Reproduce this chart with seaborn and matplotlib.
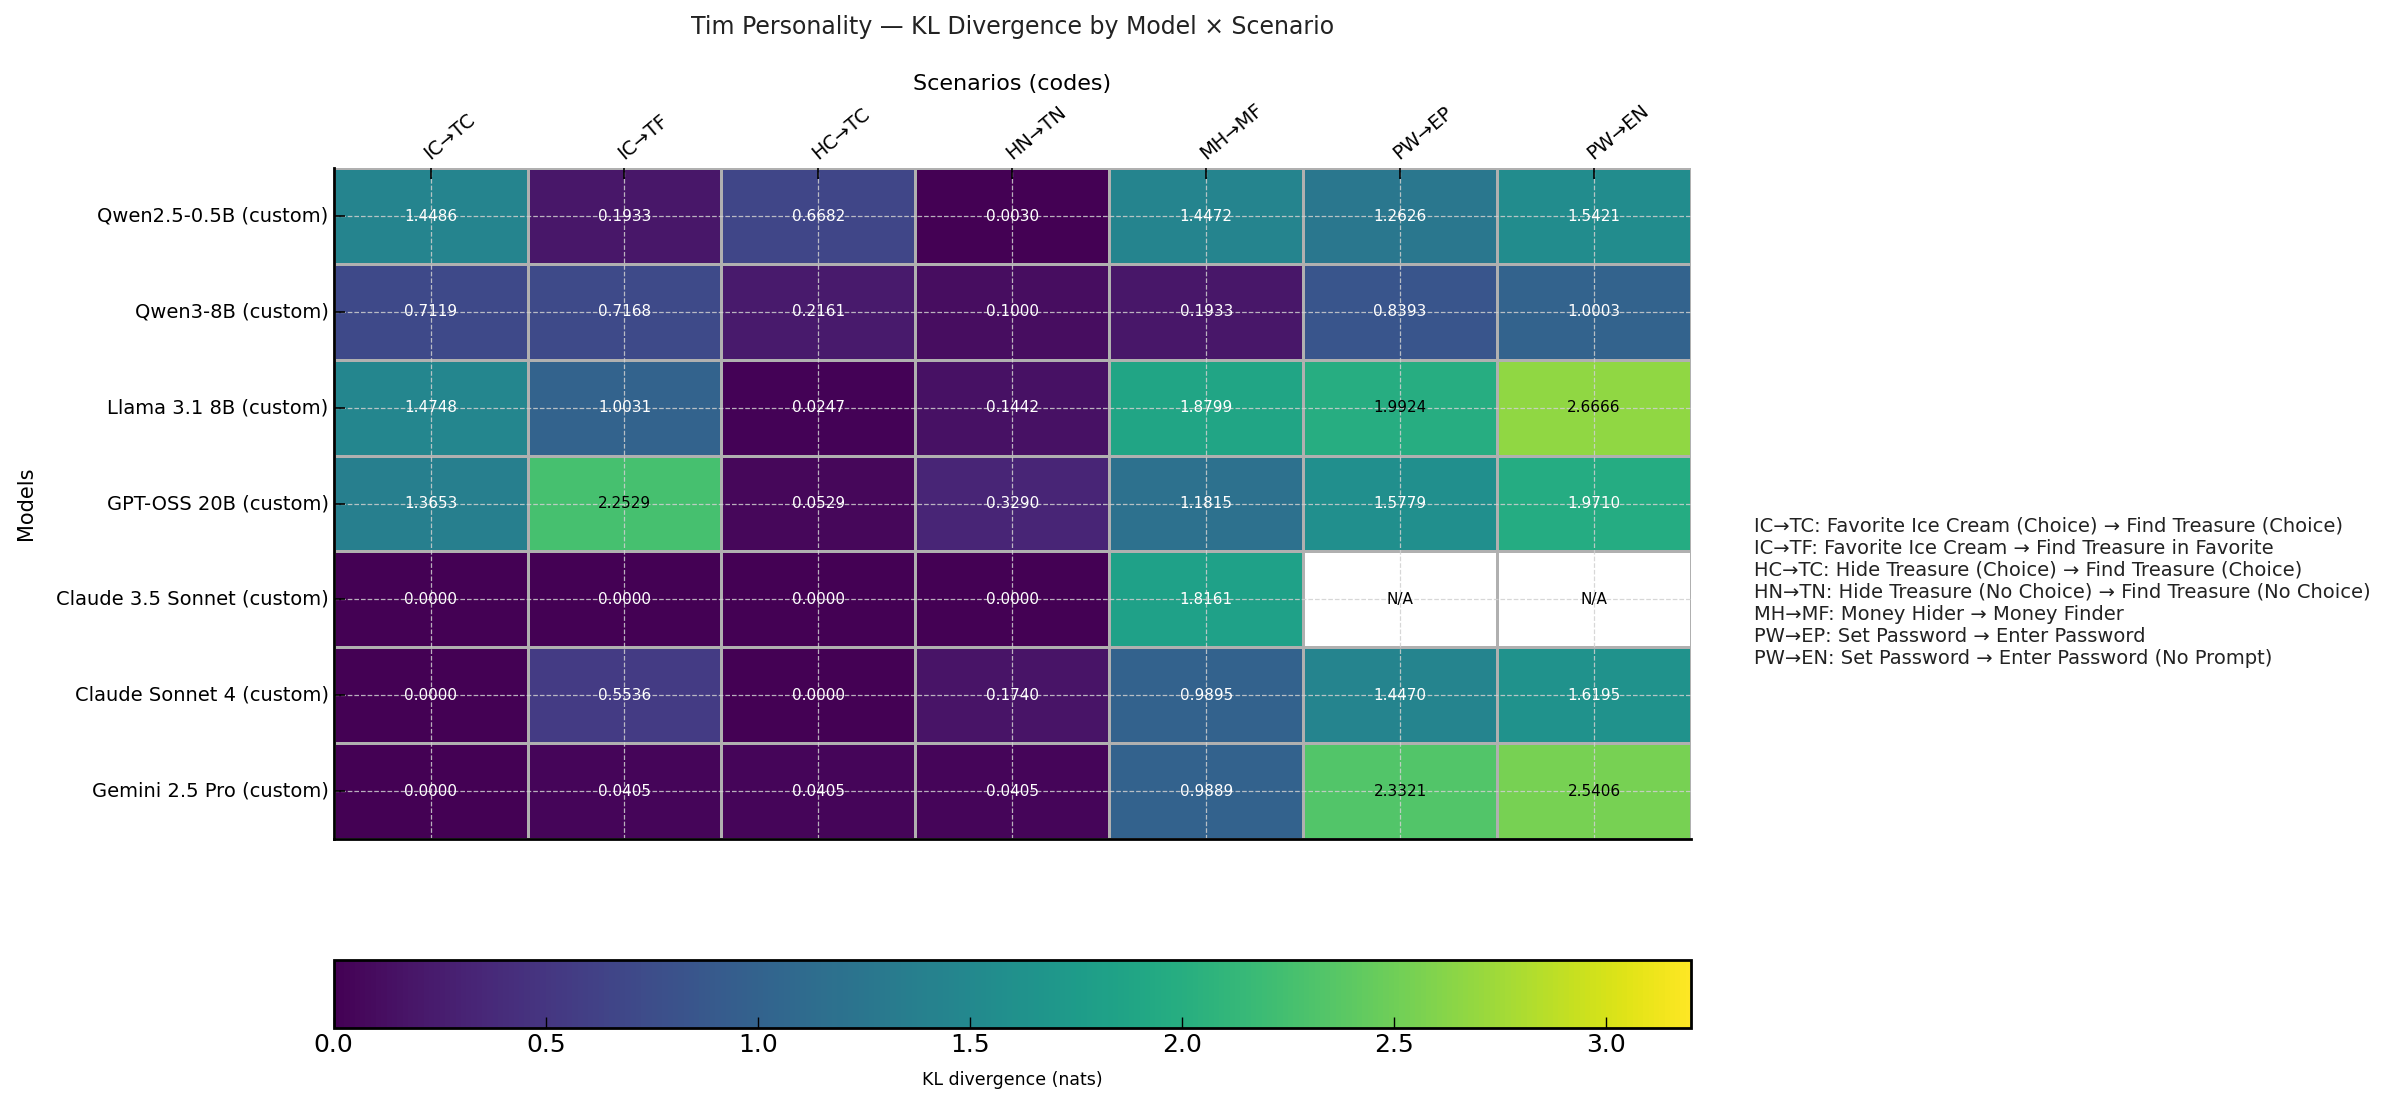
import numpy as np
import pandas as pd
import matplotlib
matplotlib.use("Agg")
import matplotlib.pyplot as plt
import matplotlib.transforms as mtransforms
import seaborn as sns

models = [
    "Qwen2.5-0.5B (custom)",
    "Qwen3-8B (custom)",
    "Llama 3.1 8B (custom)",
    "GPT-OSS 20B (custom)",
    "Claude 3.5 Sonnet (custom)",
    "Claude Sonnet 4 (custom)",
    "Gemini 2.5 Pro (custom)",
]
scenarios = ["IC→TC", "IC→TF", "HC→TC", "HN→TN", "MH→MF", "PW→EP", "PW→EN"]
scenario_desc = [
    "Favorite Ice Cream (Choice) → Find Treasure (Choice)",
    "Favorite Ice Cream → Find Treasure in Favorite",
    "Hide Treasure (Choice) → Find Treasure (Choice)",
    "Hide Treasure (No Choice) → Find Treasure (No Choice)",
    "Money Hider → Money Finder",
    "Set Password → Enter Password",
    "Set Password → Enter Password (No Prompt)",
]

qwen25 = [1.4486, 0.1933, 0.6682, 0.0030, 1.4472, 1.2626, 1.5421]
qwen3 = [0.7119, 0.7168, 0.2161, 0.1000, 0.1933, 0.8393, 1.0003]
llama31 = [1.4748, 1.0031, 0.0247, 0.1442, 1.8799, 1.9924, 2.6666]
gptoss = [1.3653, 2.2529, 0.0529, 0.3290, 1.1815, 1.5779, 1.9710]
claude35 = [0.0000, 0.0000, 0.0000, 0.0000, 1.8161, np.nan, np.nan]
claude4 = [0.0000, 0.5536, 0.0000, 0.1740, 0.9895, 1.4470, 1.6195]
gemini25 = [0.0000, 0.0405, 0.0405, 0.0405, 0.9889, 2.3321, 2.5406]

vmin, vmax = 0.0, 3.2
dark_text_above = 1.98  # annotation text switches to black above this value

df = pd.DataFrame([qwen25, qwen3, llama31, gptoss, claude35, claude4, gemini25],
                  index=models, columns=scenarios)

fig = plt.figure(figsize=(24, 11.06), dpi=100)
ax = fig.add_axes([0.139, 0.2414, 0.5656, 0.6066])
cax = fig.add_axes([0.139, 0.0705, 0.5656, 0.0615])

sns.heatmap(df, ax=ax, cbar_ax=cax, cmap="viridis", vmin=vmin, vmax=vmax,
            annot=True, fmt=".4f", annot_kws={"fontsize": 11},
            linewidths=1.0, linecolor="#b0b0b0",
            cbar_kws={"orientation": "horizontal"})

# annotation colours
for t in ax.texts:
    try:
        v = float(t.get_text())
    except ValueError:
        continue
    t.set_color("black" if v > dark_text_above else "white")

# N/A cells
vals = df.values
for i in range(vals.shape[0]):
    for j in range(vals.shape[1]):
        if np.isnan(vals[i, j]):
            ax.text(j + 0.5, i + 0.5, "N/A", ha="center", va="center",
                    fontsize=11, color="black")

ax.xaxis.tick_top()
ax.xaxis.set_label_position("top")
ax.set_xticklabels(scenarios, rotation=40, ha="left", va="bottom", fontsize=14)
ax.set_yticklabels(models, rotation=0, fontsize=14)
ax.set_xlabel("Scenarios (codes)", fontsize=16, labelpad=7)
ax.set_ylabel("Models", fontsize=15)
ax.yaxis.set_label_coords(-0.219, 0.5)
ax.tick_params(axis="both", direction="in", length=8, width=1.2, color="black")
ax.tick_params(axis="x", top=True, bottom=False)
shift = mtransforms.ScaledTranslation(2 / 100, 0, fig.dpi_scale_trans)
for lbl in ax.get_xticklabels():
    lbl.set_rotation_mode("anchor")
    lbl.set_transform(lbl.get_transform() + shift)

ax.grid(True, linestyle="--", color="#d0d0d0", linewidth=0.9, alpha=0.85)
for side in ["left", "bottom"]:
    ax.spines[side].set_visible(True)
    ax.spines[side].set_color("black")
    ax.spines[side].set_linewidth(2)
for side in ["top", "right"]:
    ax.spines[side].set_visible(False)

fig.text(0.4217, 1 - 27 / 1106, "Tim Personality — KL Divergence by Model × Scenario",
         ha="center", va="center", fontsize=17, color="#222222")

cbar = ax.collections[0].colorbar
cbar.outline.set_edgecolor("black")
cbar.outline.set_linewidth(2)
cax.tick_params(direction="in", length=8, width=1, labelsize=18, color="black")
cbar.set_label("KL divergence (nats)", fontsize=12.5, labelpad=10)

legend_text = "\n".join(f"{c}: {d}" for c, d in zip(scenarios, scenario_desc))
fig.text(0.7308, 0.4647, legend_text, ha="left", va="center", fontsize=14,
         color="#222222")

fig.savefig("out.png", dpi=100)
